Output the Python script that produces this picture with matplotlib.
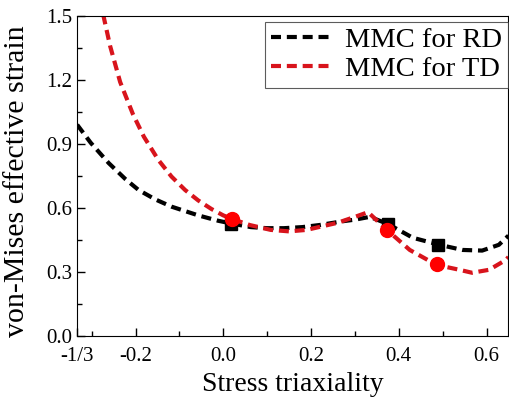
import matplotlib.pyplot as plt
from matplotlib.ticker import FixedLocator

# MMC fracture loci
rd_x = [-0.333, -0.302, -0.261, -0.223, -0.193, -0.155, -0.118, -0.057,
        -0.012, 0.018, 0.063, 0.10, 0.138, 0.18, 0.22, 0.274, 0.30, 0.334,
        0.375, 0.432, 0.493, 0.545, 0.59, 0.628, 0.65]
rd_y = [0.99, 0.905, 0.81, 0.735, 0.684, 0.64, 0.606, 0.565,
        0.54, 0.527, 0.51, 0.505, 0.505, 0.51, 0.52, 0.538, 0.545, 0.558,
        0.525, 0.46, 0.427, 0.403, 0.400, 0.427, 0.47]

td_x = [-0.285, -0.273, -0.258, -0.235, -0.206, -0.181, -0.148, -0.118,
        -0.087, -0.057, -0.027, 0.0, 0.022, 0.06, 0.108, 0.15, 0.19, 0.26,
        0.30, 0.33, 0.373, 0.425, 0.486, 0.538, 0.567, 0.606, 0.644, 0.65]
td_y = [1.62, 1.50, 1.36, 1.19, 1.04, 0.934, 0.825, 0.747,
        0.684, 0.635, 0.595, 0.565, 0.547, 0.52, 0.497, 0.49, 0.497, 0.53,
        0.558, 0.58, 0.497, 0.403, 0.333, 0.31, 0.296, 0.31, 0.356, 0.37]

# experimental points
rd_exp_x = [0.018, 0.375, 0.49]
rd_exp_y = [0.525, 0.525, 0.425]
td_exp_x = [0.02, 0.373, 0.486]
td_exp_y = [0.548, 0.497, 0.335]

xticks = [-1/3, -0.2, 0.0, 0.2, 0.4, 0.6]
xticklabels = ['-1/3', '-0.2', '0.0', '0.2', '0.4', '0.6']
yticks = [0.0, 0.3, 0.6, 0.9, 1.2, 1.5]

plt.rcParams['font.family'] = ['Liberation Serif', 'DejaVu Serif']

fig = plt.figure(figsize=(5.1, 3.98), dpi=100)
ax = fig.add_axes([0.151, 0.156, 0.846, 0.804])

ax.plot(rd_x, rd_y, color='black', lw=3, dashes=(2.4, 1.4), label='MMC for RD')
ax.plot(td_x, td_y, color='#d8141c', lw=3, dashes=(2.4, 1.4), label='MMC for TD')
ax.plot(rd_exp_x, rd_exp_y, 's', color='black', ms=8, ls='none')
ax.plot(td_exp_x, td_exp_y, 'o', color='#ff0000', ms=10, ls='none')

ax.set_xlim(-1/3, 0.65)
ax.set_ylim(0, 1.5)
ax.set_xticks(xticks)
ax.set_xticklabels(xticklabels)
ax.xaxis.set_minor_locator(FixedLocator([-0.3, -0.1, 0.1, 0.3, 0.5]))
ax.set_yticks(yticks)
ax.set_yticklabels(['%.1f' % v for v in yticks])
ax.yaxis.set_minor_locator(FixedLocator([0.15, 0.45, 0.75, 1.05, 1.35]))
ax.tick_params(which='major', direction='in', length=6, width=1, labelsize=15)
ax.tick_params(axis='x', which='major', pad=8)
ax.tick_params(which='minor', direction='in', length=3.5, width=1)

ax.set_xlabel('Stress triaxiality', fontsize=20, labelpad=4)
ax.set_ylabel('von-Mises effective strain', fontsize=21.5)
ax.yaxis.set_label_coords(-0.108, 0.485)

leg = ax.legend(loc='upper right', bbox_to_anchor=(0.998, 0.982),
                borderaxespad=0, fontsize=20.5, frameon=True, fancybox=False,
                edgecolor='#333333', handlelength=2.2, borderpad=0.2,
                labelspacing=0.1, handletextpad=0.4)
leg.get_frame().set_linewidth(0.8)

plt.savefig('out.png', dpi=100)
